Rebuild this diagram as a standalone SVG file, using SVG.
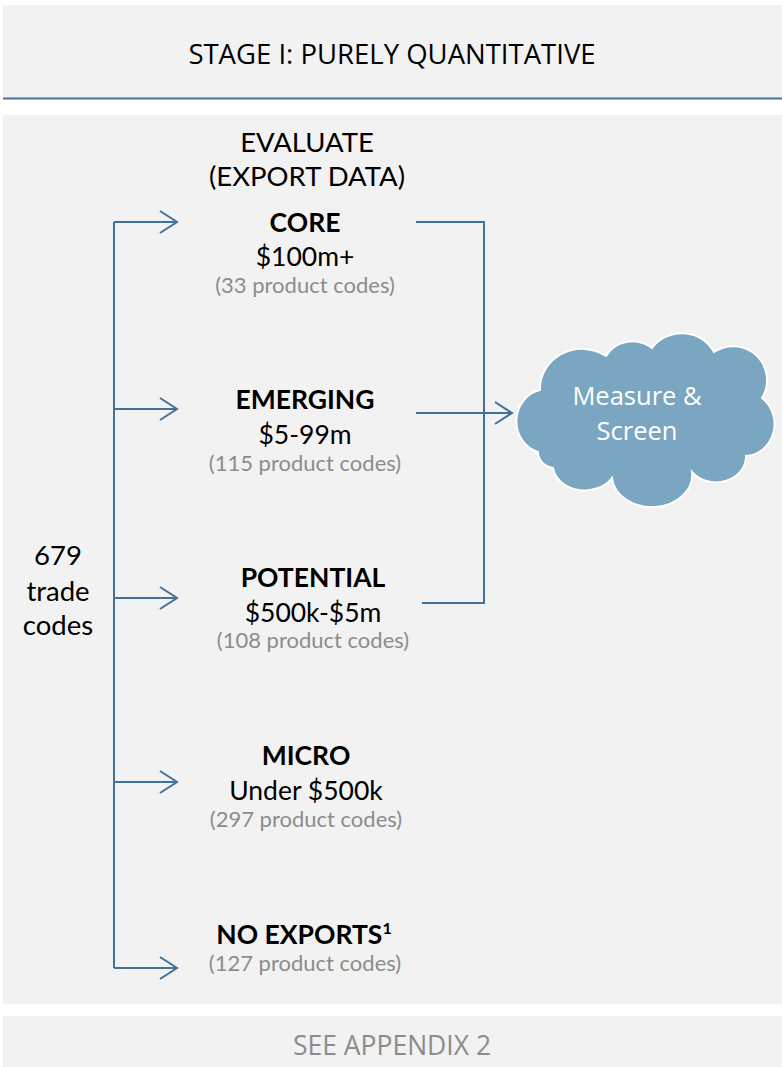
<svg xmlns="http://www.w3.org/2000/svg" width="782" height="1067" viewBox="0 0 782 1067">
<style>
.bg{fill:#f2f2f2}
.ln{fill:none;stroke:#41719a;stroke-width:2}
.t{font-family:Lato,"Open Sans",sans-serif;text-anchor:middle;fill:#000}
.h{font-size:26.5px;font-weight:bold}
.v{font-size:26.5px}
.g{font-size:22px;fill:#8c8c8c}
.o{font-family:"Open Sans",sans-serif}
</style>
<defs>
<marker id="ar" markerWidth="20" markerHeight="24" refX="18" refY="12" orient="auto" markerUnits="userSpaceOnUse">
<path d="M1,1 L18,12 L1,23" fill="none" stroke="#41719a" stroke-width="2"/>
</marker>
</defs>
<rect width="782" height="1067" fill="#fff"/>
<g id="header">
<rect class="bg" x="3" y="5" width="779" height="93"/>
<line x1="3" y1="98.5" x2="782" y2="98.5" stroke="#41719a" stroke-width="2"/>
<text class="t o" x="392" y="64" font-size="27.5">STAGE I: PURELY QUANTITATIVE</text>
</g>
<g id="panel">
<rect class="bg" x="3" y="115" width="779" height="889"/>
</g>
<g id="footer">
<rect class="bg" x="3" y="1016" width="779" height="51"/>
<text class="t o" x="392" y="1055" font-size="26.5" style="fill:#8c8c8c">SEE APPENDIX 2</text>
</g>
<g id="connectors">
<path class="ln" d="M114,222 V968"/>
<path class="ln" marker-end="url(#ar)" d="M114,222 H177"/>
<path class="ln" marker-end="url(#ar)" d="M114,409 H177"/>
<path class="ln" marker-end="url(#ar)" d="M114,598 H177"/>
<path class="ln" marker-end="url(#ar)" d="M114,782 H177"/>
<path class="ln" marker-end="url(#ar)" d="M114,968 H177"/>
<path class="ln" d="M416,222 H484 V603 H422"/>
<path class="ln" marker-end="url(#ar)" d="M416,413 H512"/>
</g>
<g id="evaluate">
<text class="t" x="307" y="152" font-size="27.5">EVALUATE</text>
<text class="t" x="307" y="186" font-size="27.5">(EXPORT DATA)</text>
</g>
<g id="source">
<text class="t" x="58" y="565" font-size="27.5">679</text>
<text class="t" x="58" y="601" font-size="27.5">trade</text>
<text class="t" x="58" y="635" font-size="27.5">codes</text>
</g>
<g id="core">
<text class="t h" x="305" y="232">CORE</text>
<text class="t v" x="305" y="266">$100m+</text>
<text class="t g" x="305" y="293">(33 product codes)</text>
</g>
<g id="emerging">
<text class="t h" x="305" y="409">EMERGING</text>
<text class="t v" x="305" y="444">$5-99m</text>
<text class="t g" x="305" y="471">(115 product codes)</text>
</g>
<g id="potential">
<text class="t h" x="313" y="587">POTENTIAL</text>
<text class="t v" x="313" y="622">$500k-$5m</text>
<text class="t g" x="313" y="648">(108 product codes)</text>
</g>
<g id="micro">
<text class="t h" x="306" y="765">MICRO</text>
<text class="t v" x="306" y="800">Under $500k</text>
<text class="t g" x="306" y="827">(297 product codes)</text>
</g>
<g id="noexports">
<text class="t h" x="304" y="944">NO EXPORTS<tspan font-size="16" dy="-10">1</tspan></text>
<text class="t g" x="305" y="971">(127 product codes)</text>
</g>
<g id="cloud">
<path d="M538,452 A30,32 0 0 1 540,390 A42,40 0 0 1 606,356 A30,28 0 0 1 652,348 A36,34 0 0 1 714,352 A34,34 0 0 1 762,398 A30,32 0 0 1 746,456 A30,26 0 0 1 692,472 A40,32 0 0 1 612,478 A32,26 0 0 1 553,468 A18,16 0 0 1 538,452 Z" fill="#7ba6c1" stroke="#fff" stroke-width="2"/>
<text class="t o" x="637" y="405" font-size="25.5" style="fill:#fff">Measure &amp;</text>
<text class="t o" x="637" y="440" font-size="25.5" style="fill:#fff">Screen</text>
</g>
</svg>
